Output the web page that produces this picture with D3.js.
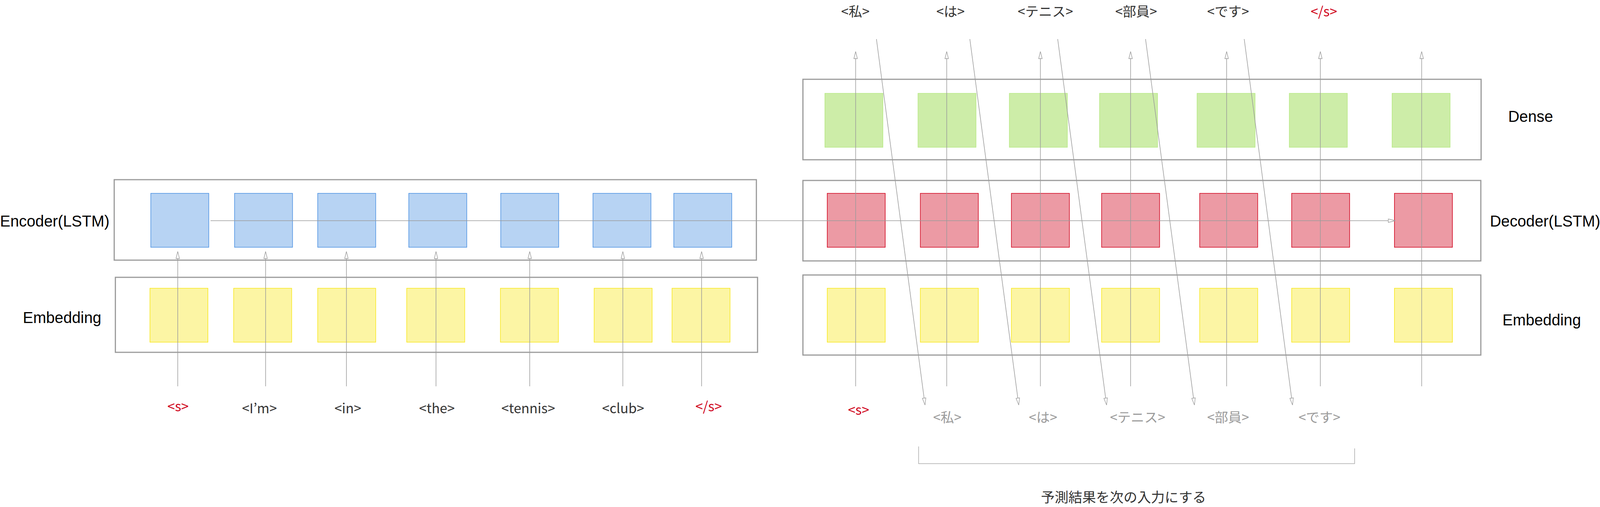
<!doctype html>
<html>
<head>
<meta charset="utf-8">
<script src="https://cdn.jsdelivr.net/npm/d3@7"></script>
<style>
html, body { margin: 0; padding: 0; overflow: hidden; background: #fff; width: 100%; height: 100%; }
svg { display: block; }
.layer { font-family: "Liberation Sans", Arial, sans-serif; fill: #000; }
.token { font-family: "Noto Sans CJK JP", "Noto Sans", sans-serif; text-anchor: middle; }
</style>
</head>
<body>
<script>
// tokens
var encTokens = ["<s>", "<I\u2019m>", "<in>", "<the>", "<tennis>", "<club>", "</s>"];
var decInputs = ["<s>", "<私>", "<は>", "<テニス>", "<部員>", "<です>"];
var decOutputs = ["<私>", "<は>", "<テニス>", "<部員>", "<です>", "</s>"];
var caption = "予測結果を次の入力にする";

// layout, in the 5464 x 1298 design space
var encCellLeft = [515, 801, 1085, 1396, 1710, 2025, 2301],
    encEmbLeft = [512, 798, 1085, 1389, 1709, 2029, 2295],
    encArrowX = [607, 907, 1183, 1489, 1809, 2127, 2396],
    encLabelX = [608, 886, 1188, 1492, 1804, 2128, 2420],
    denseLeft = [2817, 3135, 3447, 3755, 4088, 4403, 4754],
    decCellLeft = [2825, 3143, 3454, 3762, 4097, 4411, 4762],
    decArrowX = [2922, 3233, 3553, 3861, 4189, 4509, 4855],
    decInLabelX = [2932, 3235, 3562, 3885, 4194, 4506],
    decOutLabelX = [2921, 3246, 3570, 3880, 4194, 4521],
    feedStartX = [2993, 3312, 3612, 3912, 4249],
    feedEndX = [3159, 3479, 3779, 4079, 4414];

var DW = 5464, DH = 1298, cellW = 198, cellH = 138;
var GRAY = "#9b9b9b", RED = "#d0021b", DARK = "#333";

// fit the design space to whatever window we get
var W = window.innerWidth || DW, H = window.innerHeight || DH;
var fx = d3.scaleLinear().domain([0, DW]).range([0, W]),
    fy = d3.scaleLinear().domain([0, DH]).range([0, H]),
    k = Math.min(W / DW, H / DH);

var svg = d3.select("body").append("svg")
    .attr("width", W).attr("height", H);

var col = d3.range(7);
var x = function(arr){ return d3.scaleLinear().domain(d3.range(arr.length)).range(arr.map(fx)); };
var xEnc = x(encCellLeft), xEncEmb = x(encEmbLeft), xEncArrow = x(encArrowX), xEncLabel = x(encLabelX),
    xDense = x(denseLeft), xDec = x(decCellLeft), xDecArrow = x(decArrowX),
    xDecIn = x(decInLabelX), xDecOut = x(decOutLabelX),
    xFeedA = x(feedStartX), xFeedB = x(feedEndX);

// baseline in window space for text whose design baseline is b at design size fs,
// kept inside the window (CJK font box runs ~1.16em up and ~0.29em down)
function ty(b, fs){
    var y = fy(b - 0.36 * fs) + 0.36 * fs * k;
    return Math.max(1.16 * fs * k + 2, Math.min(H - 0.29 * fs * k - 2, y));
}

// containers
var frames = [
    {x0: 390, x1: 2583, y0: 460, y1: 666},
    {x0: 394, x1: 2587, y0: 710, y1: 902},
    {x0: 2742, x1: 5058, y0: 203, y1: 409},
    {x0: 2742, x1: 5057, y0: 462, y1: 668},
    {x0: 2742, x1: 5057, y0: 704, y1: 909}
];
svg.append("g").selectAll("rect").data(frames).join("rect")
    .attr("x", function(d){ return fx(d.x0); })
    .attr("y", function(d){ return fy(d.y0); })
    .attr("width", function(d){ return fx(d.x1) - fx(d.x0); })
    .attr("height", function(d){ return fy(d.y1) - fy(d.y0); })
    .attr("fill", "none").attr("stroke", GRAY).attr("stroke-width", 4 * k);

// cells
function cells(scale, y, fill, stroke){
    svg.append("g").selectAll("rect").data(col).join("rect")
        .attr("x", function(i){ return scale(i); })
        .attr("y", fy(y)).attr("width", fx(cellW)).attr("height", fy(y + cellH) - fy(y))
        .attr("fill", fill).attr("stroke", stroke).attr("stroke-width", 2 * k);
}
cells(xEnc, 495, "#b7d3f3", "#4a90e2");
cells(xEncEmb, 738, "#fcf5a4", "#f8e71c");
cells(xDense, 239, "#cdeda8", "#b8e986");
cells(xDec, 495, "#ec9aa4", "#d0021b");
cells(xDec, 738, "#fcf5a4", "#f8e71c");

// arrows
var lines = svg.append("g").attr("stroke", GRAY).attr("stroke-width", 2 * k).attr("fill", "none");
function head(g, tx, tyy, ang){
    // hollow triangle, tip at (tx,tyy), pointing along ang (radians)
    var L = 24 * k, w = 6 * k;
    var bx = tx - L * Math.cos(ang), by = tyy - L * Math.sin(ang);
    var px = -Math.sin(ang) * w, py = Math.cos(ang) * w;
    g.append("path")
        .attr("d", d3.line()([[tx, tyy], [bx + px, by + py], [bx - px, by - py]]) + "Z")
        .attr("fill", "#fff").attr("stroke", GRAY).attr("stroke-width", 1.8 * k);
}

// recurrent state line
lines.append("line").attr("x1", fx(719)).attr("y1", fy(565)).attr("x2", fx(4765) - 23 * k).attr("y2", fy(565));
head(lines, fx(4765), fy(565), 0);

// encoder inputs
col.forEach(function(i){
    lines.append("line").attr("x1", xEncArrow(i)).attr("x2", xEncArrow(i)).attr("y1", fy(989)).attr("y2", fy(644) + 23 * k);
    head(lines, xEncArrow(i), fy(644), -Math.PI / 2);
});

// decoder columns
col.forEach(function(i){
    lines.append("line").attr("x1", xDecArrow(i)).attr("x2", xDecArrow(i)).attr("y1", fy(989)).attr("y2", fy(132) + 23 * k);
    head(lines, xDecArrow(i), fy(132), -Math.PI / 2);
});

// predictions fed back as next input
decOutputs.slice(0, feedStartX.length).forEach(function(t, i){
    var x1 = xFeedA(i), y1 = fy(100), x2 = xFeedB(i), y2 = fy(1037);
    var ang = Math.atan2(y2 - y1, x2 - x1);
    lines.append("line").attr("x1", x1).attr("y1", y1)
        .attr("x2", x2 - 22 * k * Math.cos(ang)).attr("y2", y2 - 22 * k * Math.sin(ang));
    head(lines, x2, y2, ang);
});

// bracket
svg.append("path")
    .attr("d", d3.line()([[3137, 1143], [3137, 1187], [4626, 1187], [4626, 1148]].map(function(p){ return [fx(p[0]), fy(p[1])]; })))
    .attr("fill", "none").attr("stroke", "#aaa").attr("stroke-width", 2 * k);

// layer names
var LFS = 53;
var layerNames = [
    {t: "Encoder(LSTM)", x: 187, y: 585, a: "middle"},
    {t: "Embedding", x: 212, y: 832, a: "middle"},
    {t: "Dense", x: 5227, y: 317, a: "middle"},
    {t: "Decoder(LSTM)", x: 5088, y: 585, a: "start"},
    {t: "Embedding", x: 5265, y: 838, a: "middle"}
];
svg.append("g").selectAll("text").data(layerNames).join("text")
    .attr("class", "layer")
    .style("font-size", LFS * k + "px")
    .attr("x", function(d){ return fx(d.x); })
    .attr("y", function(d){ return ty(d.y, LFS); })
    .attr("text-anchor", function(d){ return d.a; })
    .text(function(d){ return d.t; });

function isMark(t){ return t === "<s>" || t === "</s>"; }
var TFS = 46;

// encoder tokens
svg.append("g").selectAll("text").data(encTokens).join("text")
    .attr("class", "token").style("font-size", TFS * k + "px")
    .attr("x", function(d, i){ return xEncLabel(i); })
    .attr("y", function(d){ return ty(isMark(d) ? 1057 : 1062, TFS); })
    .attr("fill", function(d){ return isMark(d) ? RED : DARK; })
    .text(function(d){ return d; });

// decoder inputs
svg.append("g").selectAll("text").data(decInputs).join("text")
    .attr("class", "token").style("font-size", TFS * k + "px")
    .attr("x", function(d, i){ return xDecIn(i); })
    .attr("y", function(d){ return ty(isMark(d) ? 1066 : 1085, TFS); })
    .attr("fill", function(d){ return isMark(d) ? RED : GRAY; })
    .text(function(d){ return d; });

// decoder outputs
svg.append("g").selectAll("text").data(decOutputs).join("text")
    .attr("class", "token").style("font-size", TFS * k + "px")
    .attr("x", function(d, i){ return xDecOut(i); })
    .attr("y", function(d, i){ return ty(i < 2 ? 42 : 46, TFS); })
    .attr("fill", function(d){ return isMark(d) ? RED : DARK; })
    .text(function(d){ return d; });

svg.append("text")
    .attr("class", "token").style("font-size", 47 * k + "px")
    .attr("x", fx(3837)).attr("y", ty(1296, 47))
    .attr("fill", DARK)
    .text(caption);
</script>
</body>
</html>
